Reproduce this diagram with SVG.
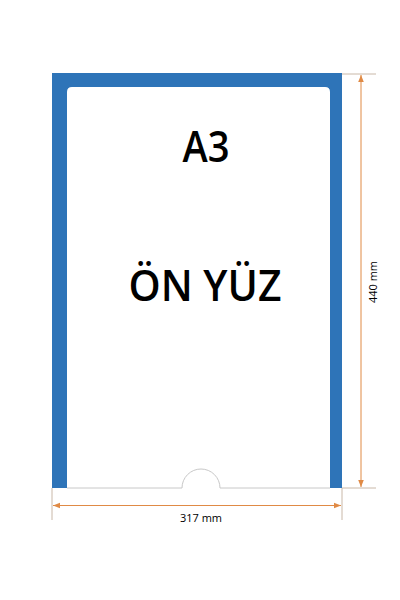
<svg xmlns="http://www.w3.org/2000/svg" width="400" height="600" viewBox="0 0 400 600">
<defs>
<style>
.frame{fill:#2e74b8}
.dim{stroke:#e08a45;stroke-width:1;fill:none}
.ext{stroke:#c9b8a8;stroke-width:1;fill:none}
.big{font-family:"Open Sans","Noto Sans",sans-serif;font-weight:600;fill:#000;text-anchor:middle}
.lbl{font-family:"Open Sans","Noto Sans",sans-serif;font-size:11px;fill:#000;text-anchor:middle}
</style>
<marker id="arr" viewBox="0 0 10 10" refX="10" refY="5" markerWidth="7" markerHeight="7" markerUnits="userSpaceOnUse" orient="auto-start-reverse">
<path d="M0,1 L10,5 L0,9 Z" fill="#e08a45"/>
</marker>
</defs>
<rect width="400" height="600" fill="#fff"/>
<g id="holder">
<path class="frame" d="M52,73 H342 V488 H330 V92 Q330,87 325,87 H72 Q67,87 67,92 V488 H52 Z"/>
<path d="M67,488 H182 A19,19 0 0 1 220,488 H330" stroke="#c8c8c8" stroke-width="1" fill="none"/>
</g>
<g id="title">
<text class="big" x="206" y="162" font-size="43" textLength="47" lengthAdjust="spacingAndGlyphs">A3</text>
<text class="big" x="205" y="301" font-size="44" textLength="153" lengthAdjust="spacingAndGlyphs">ÖN YÜZ</text>
</g>
<g id="connectors">
<line class="ext" x1="342" y1="74" x2="376" y2="74"/>
<line class="ext" x1="342" y1="488" x2="376" y2="488"/>
<line class="ext" x1="52" y1="488" x2="52" y2="520"/>
<line class="ext" x1="342" y1="488" x2="342" y2="520"/>
<line class="dim" x1="361" y1="75" x2="361" y2="487" marker-start="url(#arr)" marker-end="url(#arr)"/>
<line class="dim" x1="53" y1="505.5" x2="341" y2="505.5" marker-start="url(#arr)" marker-end="url(#arr)"/>
</g>
<g id="labels">
<text class="lbl" x="201" y="522">317 mm</text>
<text class="lbl" transform="translate(377,282) rotate(-90)" x="0" y="0">440 mm</text>
</g>
</svg>
